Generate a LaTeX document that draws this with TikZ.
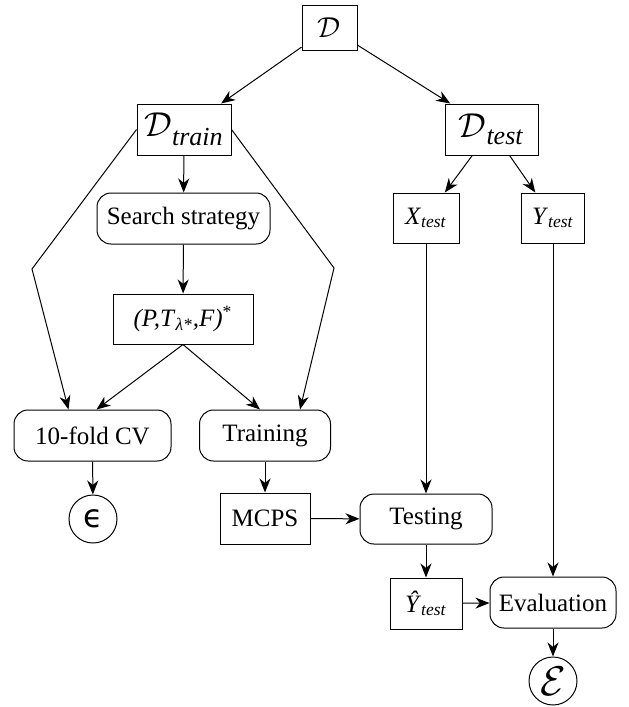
\documentclass[tikz,border=0pt]{standalone}
\usepackage{fontspec}
\setmainfont{Liberation Serif}
\newfontfamily\epsfont{DejaVu Sans}
\usepackage{tikz}
\usetikzlibrary{arrows.meta}

\begin{document}
\begin{tikzpicture}[x=0.5pt,y=-0.5pt,>={Stealth[length=7pt,width=5.5pt,inset=2.2pt]},
		font=\fontsize{12.5}{14}\selectfont,line width=0.5pt,
		box/.style={draw,rectangle,inner sep=0pt},
		rbox/.style={draw,rectangle,rounded corners=7pt,inner sep=0pt},
		res/.style={draw,circle,minimum size=24pt,inner sep=0pt}]
		%\draw[help lines] (0,0) grid[step=50] (628,707);
		\useasboundingbox (0,0) rectangle (628,707);
		\node[box,minimum width=27.5pt,minimum height=22.5pt] (d) at (329.5,27.5) {\fontsize{15}{15}\selectfont$\mathcal{D}$};
		\node[box,minimum width=47pt,minimum height=25.5pt] (dtrain) at (184,129.5) {{\fontsize{17}{17}\selectfont$\mathcal{D}$}\textsubscript{\fontsize{13}{13}\selectfont\textit{train}}};
		\node[box,minimum width=46.5pt,minimum height=25.5pt] (dtest) at (491.5,129.5) {{\fontsize{17}{17}\selectfont$\mathcal{D}$}\textsubscript{\fontsize{13}{13}\selectfont\textit{test}}};
		\node[rbox,minimum width=86.5pt,minimum height=25.5pt] (search) at (183.5,218.5) {Search strategy};
		\node[box,minimum width=70pt,minimum height=25pt] (ptf) at (183,319) {\textit{(P,T}\textsubscript{\textit{λ*}}\textit{,F)}\textsuperscript{*}};
		\node[box,minimum width=33pt,minimum height=25pt] (xtest) at (426,218) {\textit{X}\textsubscript{\textit{test}}};
		\node[box,minimum width=31.5pt,minimum height=25pt] (ytest) at (553,218) {\textit{Y}\textsubscript{\textit{test}}};
		\node[rbox,minimum width=78.5pt,minimum height=25.5pt] (cv) at (92.5,435.5) {10-fold CV};
		\node[rbox,minimum width=65.5pt,minimum height=25.5pt] (train) at (265,435.5) {Training};
		\node[res] (eps) at (93,519) {\epsfont\fontsize{16}{16}\selectfont ϵ};
		\node[box,minimum width=45pt,minimum height=25.5pt] (mcps) at (265,518.5) {MCPS};
		\node[rbox,minimum width=66pt,minimum height=25pt] (testing) at (426,519) {Testing};
		\node[box,minimum width=36pt,minimum height=25.5pt] (yhat) at (426,603.5) {\textit{\^Y}\textsubscript{\textit{test}}};
		\node[rbox,minimum width=63pt,minimum height=25.5pt] (eval) at (553,602.5) {Evaluation};
		\node[res] (err) at (553,681) {\fontsize{20}{20}\selectfont$\mathcal{E}$};
		\coordinate (lbend) at (32,269);
		\coordinate (rbend) at (334,268);

		\draw[->] (d) -- (dtrain);
		\draw[->] (d) -- (dtest);
		\draw[->] (dtrain) -- (search);
		\draw[->] (search) -- (ptf);
		\draw[->] (dtrain.west) -- (lbend) -- ([xshift=-12pt]cv.north);
		\draw[->] (dtrain.east) -- (rbend) -- ([xshift=17.5pt]train.north);
		\draw[->] (ptf.south) -- ([xshift=2pt]cv.north);
		\draw[->] (ptf.south) -- ([xshift=-2.5pt]train.north);
		\draw[->] (dtest) -- (xtest);
		\draw[->] (dtest) -- (ytest);
		\draw[->] (xtest) -- (testing);
		\draw[->] (ytest) -- (eval);
		\draw[->] (cv) -- (eps);
		\draw[->] (train) -- (mcps);
		\draw[->] (mcps) -- (testing);
		\draw[->] (testing) -- (yhat);
		\draw[->] (yhat) -- (eval);
		\draw[->] (eval) -- (err);
\end{tikzpicture}
\end{document}
